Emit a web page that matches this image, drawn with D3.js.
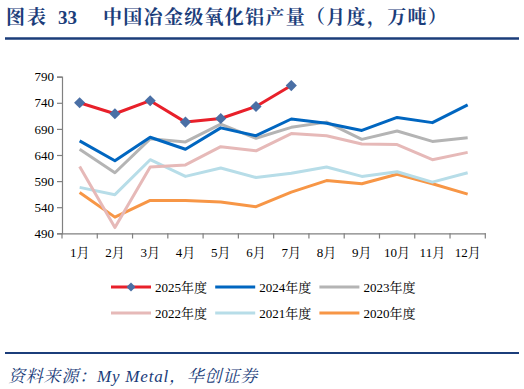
<!DOCTYPE html>
<html><head><meta charset="utf-8">
<script src="https://cdn.jsdelivr.net/npm/d3@7"></script>
<style>body{margin:0;background:#fff}svg{display:block}</style>
</head><body>
<svg id="c" width="524" height="389"></svg>
<script>
const months = ["1月","2月","3月","4月","5月","6月","7月","8月","9月","10月","11月","12月"];
const yTicks = [490,540,590,640,690,740,790];
const s2025 = [740,719,744,703,710,733,773];
const s2024 = [667,629,674,651,692,677,709,701,687,712,702,736];
const s2023 = [651,606,671,665,699,672,693,703,670,686,666,673];
const s2022 = [618,501,617,621,656,648,681,677,661,660,631,645];
const s2021 = [578,564,631,599,615,597,605,617,599,608,588,606];
const s2020 = [568,521,553,553,550,541,569,591,585,603,585,565];
const seriesNames = ["2025年度","2024年度","2023年度","2022年度","2021年度","2020年度"];
const colors = ["#E8202A","#0066C0","#B4B4B4","#E6B9B8","#B7DDE8","#F79646"];

const svg = d3.select("#c");
const navy = "#1B3D7A";
const serif = "'Liberation Serif','Times New Roman','Noto Serif CJK SC','Noto Sans CJK SC',serif";

const title = svg.append("text").attr("y",24).attr("fill",navy)
  .attr("font-size",19).attr("font-weight","bold").attr("font-family",serif);
title.append("tspan").attr("x",6).attr("letter-spacing",2).text("图表");
title.append("tspan").attr("x",58).text("33");
title.append("tspan").attr("x",103).attr("letter-spacing",1.3).text("中国冶金级氧化铝产量（月度，万吨）");
svg.append("line").attr("x1",5).attr("x2",519).attr("y1",38.5).attr("y2",38.5)
  .attr("stroke",navy).attr("stroke-width",2.5);

const x = d3.scaleBand().domain(months).range([62,485.3]);
const y = d3.scaleLinear().domain([490,790]).range([233.3,76.7]);

const axColor = "#808080";
const gx = svg.append("g").attr("transform","translate(0,233.3)")
  .call(d3.axisBottom(x).tickSize(0).tickPadding(14));
gx.select(".domain").attr("stroke",axColor).attr("stroke-width",1.2);
gx.selectAll("text").attr("font-family",serif).attr("font-size",13).attr("fill","#000");
svg.append("g").selectAll("line").data(d3.range(13)).join("line")
  .attr("x1",i=>62+i*x.step()).attr("x2",i=>62+i*x.step())
  .attr("y1",233.3).attr("y2",238.5).attr("stroke",axColor).attr("stroke-width",1.2);

const gy = svg.append("g").attr("transform","translate(62,0)")
  .call(d3.axisLeft(y).tickValues(yTicks).tickSize(5).tickPadding(3));
gy.select(".domain").attr("stroke",axColor).attr("stroke-width",1.2);
gy.selectAll("line").attr("stroke",axColor).attr("stroke-width",1.2);
gy.selectAll("text").attr("font-family",serif).attr("font-size",13).attr("fill","#000");

const line = d3.line().x((d,i)=>x(months[i])+x.bandwidth()/2).y(d=>y(d));
const all = [s2025,s2024,s2023,s2022,s2021,s2020];
for (let k=all.length-1;k>=0;k--) {
  svg.append("path").datum(all[k]).attr("d",line).attr("fill","none")
    .attr("stroke",colors[k]).attr("stroke-width",3).attr("stroke-linejoin","round");
}
const diamond = d3.symbol().type(d3.symbolSquare).size(62);
svg.append("g").selectAll("path").data(s2025).join("path")
  .attr("d",diamond)
  .attr("transform",(d,i)=>`translate(${x(months[i])+x.bandwidth()/2},${y(d)}) rotate(45)`)
  .attr("fill","#4A6FA5");

const lg = svg.append("g");
seriesNames.forEach((n,i)=>{
  const col = i%3, row = Math.floor(i/3);
  const lx = 111 + col*104.2, ly = 287 + row*26;
  lg.append("line").attr("x1",lx).attr("x2",lx+40).attr("y1",ly).attr("y2",ly)
    .attr("stroke",colors[i]).attr("stroke-width",3);
  if (i===0) lg.append("path").attr("d",d3.symbol().type(d3.symbolSquare).size(40)())
    .attr("transform",`translate(${lx+20},${ly}) rotate(45)`).attr("fill","#4A6FA5");
  lg.append("text").attr("x",lx+44).attr("y",ly+5).attr("font-family",serif)
    .attr("font-size",13).attr("fill","#000").text(n);
});

svg.append("line").attr("x1",5).attr("x2",519).attr("y1",353).attr("y2",353)
  .attr("stroke",navy).attr("stroke-width",2);
svg.append("text").attr("x",8).attr("y",382).attr("fill",navy)
  .attr("font-size",17).attr("font-style","italic").attr("font-family",serif)
  .attr("letter-spacing",0.8)
  .text("资料来源：My Metal，华创证券");
</script>
</body></html>
